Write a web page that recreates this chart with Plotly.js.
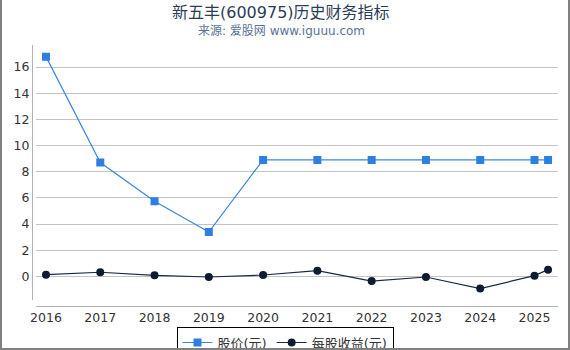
<!DOCTYPE html>
<html><head><meta charset="utf-8">
<script src="https://cdn.plot.ly/plotly-3.0.1.min.js"></script>
<style>
html,body{margin:0;padding:0;background:#fff;}
#wrap{position:relative;width:570px;height:350px;}
#chart{width:570px;height:350px;}
#frame{position:absolute;left:0;top:0;width:566px;height:348px;border-left:2px solid #808080;border-right:2px solid #808080;border-bottom:2px solid #808080;pointer-events:none;}
</style></head>
<body><div id="wrap"><div id="chart"></div><div id="frame"></div></div>
<script>
const years = [2016, 2017, 2018, 2019, 2020, 2021, 2022, 2023, 2024, 2025, 2025.25];
const price = [16.8, 8.7, 5.74, 3.39, 8.9, 8.9, 8.9, 8.9, 8.9, 8.9, 8.9];
const eps = [0.13, 0.31, 0.08, -0.05, 0.1, 0.43, -0.36, -0.05, -0.94, 0.05, 0.51];
const xTicks = [2016, 2017, 2018, 2019, 2020, 2021, 2022, 2023, 2024, 2025];
const yTicks = [0, 2, 4, 6, 8, 10, 12, 14, 16];
const seriesNames = ['股价(元)', '每股收益(元)'];

const font = "'DejaVu Sans', 'Noto Sans CJK SC', sans-serif";
const traces = [
  {x: years, y: price, name: seriesNames[0], type: 'scatter', mode: 'lines+markers',
   line: {color: '#3a87e0', width: 1.2}, marker: {symbol: 'square', size: 8, color: '#2f7fe0'}},
  {x: years, y: eps, name: seriesNames[1], type: 'scatter', mode: 'lines+markers',
   line: {color: '#1a2a40', width: 1.2}, marker: {symbol: 'circle', size: 8, color: '#0e1c33'}}
];
const layout = {
  width: 570, height: 350,
  margin: {l: 32, r: 12, t: 45, b: 44.4},
  paper_bgcolor: '#fff', plot_bgcolor: '#fff',
  font: {family: font, size: 12, color: '#333'},
  showlegend: true,
  legend: {orientation: 'h', xref: 'container', yref: 'container', x: 0.5, xanchor: 'center',
    y: 0.067, yanchor: 'top',
    bordercolor: '#000', borderwidth: 1, font: {size: 13, color: '#333'},
    itemwidth: 30, tracegroupgap: 0},
  xaxis: {range: [2015.816, 2025.433], domain: [0.0076, 1], anchor: 'free', position: 0,
    tickvals: xTicks, ticktext: xTicks.map(String), showgrid: false, zeroline: false,
    showline: true, linecolor: '#b0b0b0', linewidth: 1, ticks: '', tickfont: {size: 12.5, color: '#333'}},
  yaxis: {range: [-1.84, 17.69], domain: [0.0215, 1], anchor: 'free', position: 0,
    tickvals: yTicks, ticktext: yTicks.map(String), showgrid: true, gridcolor: '#c4c4c4', gridwidth: 1,
    zeroline: false, showline: true, linecolor: '#b0b0b0', linewidth: 1, ticks: '',
    tickfont: {size: 12.5, color: '#333'}},
  annotations: [
    {text: '新五丰(600975)历史财务指标', xref: 'paper', yref: 'paper', x: 0.4735, y: 1,
     xanchor: 'center', yanchor: 'middle', showarrow: false,
     font: {size: 16, color: '#2b3d55', family: font}, yshift: 33},
    {text: '来源: 爱股网 www.iguuu.com', xref: 'paper', yref: 'paper', x: 0.4735, y: 1,
     xanchor: 'center', yanchor: 'middle', showarrow: false,
     font: {size: 12, color: '#5a7394', family: font}, yshift: 14}
  ]
};
Plotly.newPlot('chart', traces, layout, {displayModeBar: false, staticPlot: true});
</script></body></html>
